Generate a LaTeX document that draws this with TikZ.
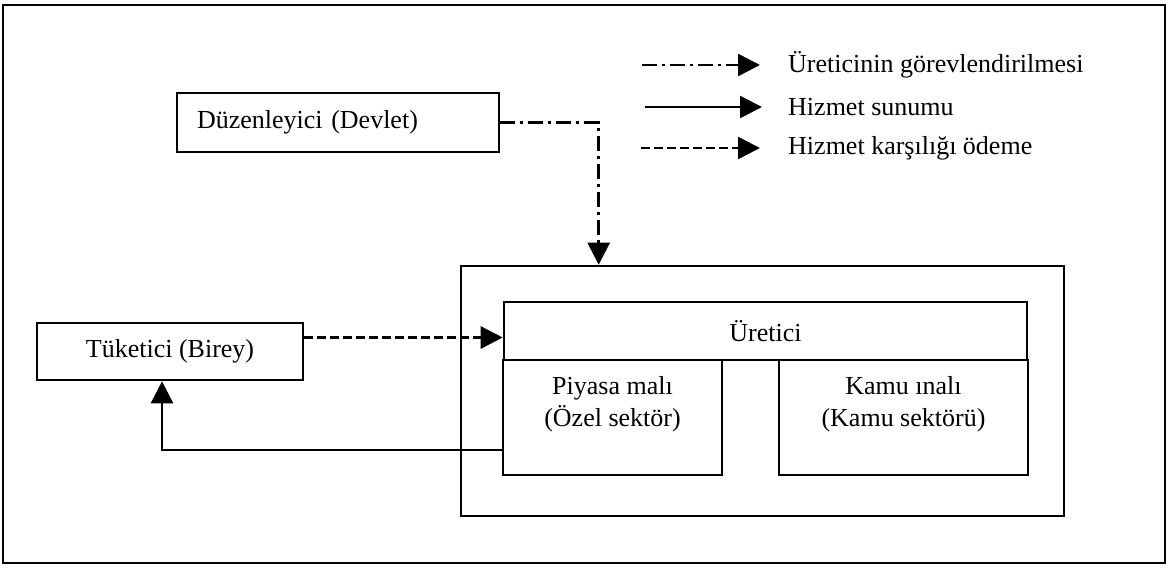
\documentclass[tikz,border=0pt]{standalone}
\usepackage{fontspec}
\setmainfont{Liberation Serif}
\usetikzlibrary{arrows.meta,calc}
\begin{document}
\begin{tikzpicture}[x=1pt,y=-1pt,
  every node/.style={font=\fontsize{26}{32}\selectfont},
  box/.style={draw, line width=2.6pt, inner sep=0pt},
  flow/.style={line width=2.6pt, -{Triangle[length=22pt,width=22pt]}},
  assign/.style={flow, dash pattern=on 15pt off 5pt on 3pt off 5pt},
  serve/.style={flow},
  pay/.style={flow, dash pattern=on 9pt off 4pt},
  lbl/.style={anchor=west, inner sep=0pt}]
\useasboundingbox (0,0) rectangle (1168,568);
% outer frame
\draw[line width=2.8pt] (3,5) rectangle (1165,563);

% actors
\node[box, minimum width=322pt, minimum height=59pt, text width=282pt,
      inner xsep=20pt, align=left] (dz) at (338,122.5) {Düzenleyici (Devlet)};
\node[box, minimum width=266pt, minimum height=57pt] (tk) at (170,351.5) {Tüketici (Birey)};

% producer block
\node[box, minimum width=603pt, minimum height=250pt] (prod) at (762.5,391) {};
\node[box, minimum width=523pt, minimum height=58pt] (ur) at (765.5,331) {Üretici};
\node[box, minimum width=219pt, minimum height=115pt] (pm) at (612.5,417.5) {};
\node[box, minimum width=249pt, minimum height=115pt] (km) at (903.5,417.5) {};
\node[align=center, inner sep=0pt] (pmtxt) at (612.5,404) {Piyasa malı\\(Özel sektör)};
\node[align=center, inner sep=0pt] (kmtxt) at (903.5,404) {Kamu ınalı\\(Kamu sektörü)};

% legend
\coordinate (l1s) at (642,65);  \coordinate (l1e) at (760,65);
\coordinate (l2s) at (645,107); \coordinate (l2e) at (762,107);
\coordinate (l3s) at (641,148); \coordinate (l3e) at (760,148);
\draw[assign] (l1s) -- (l1e);
\draw[serve]  (l2s) -- (l2e);
\draw[pay]    (l3s) -- (l3e);
\node[lbl] (l1t) at (788,65)  {Üreticinin görevlendirilmesi};
\node[lbl] (l2t) at (788,107) {Hizmet sunumu};
\node[lbl] (l3t) at (788,148) {Hizmet karşılığı ödeme};

% flows
\draw[assign] (dz.east) -| ([xshift=139pt]prod.north west);
\coordinate (payS) at ([yshift=14pt]tk.east);
\draw[pay] (payS) -- (payS -| ur.west);
\coordinate (svcS) at (pm.west |- 0,450);
\draw[serve] (svcS) -| ([xshift=-8pt]tk.south);
\end{tikzpicture}
\end{document}
